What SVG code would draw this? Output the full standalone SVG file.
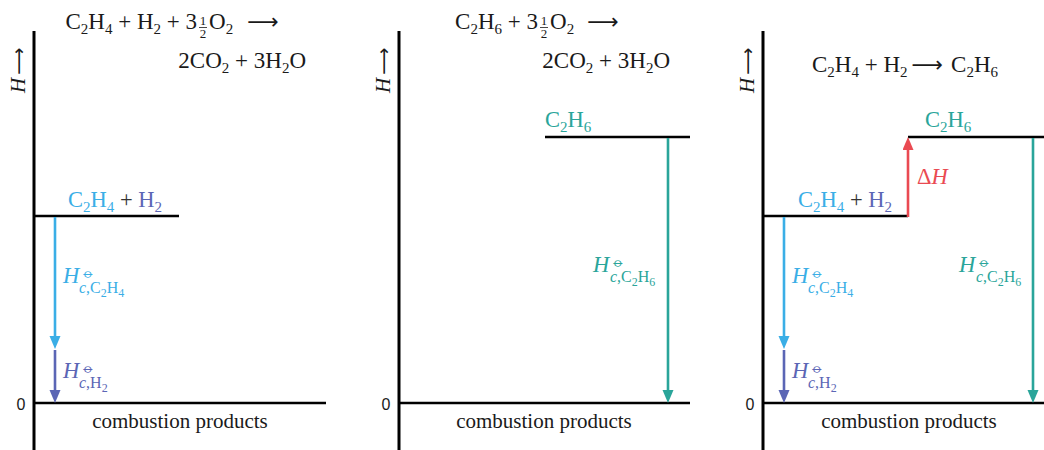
<svg xmlns="http://www.w3.org/2000/svg" width="1044" height="450" viewBox="0 0 1044 450">
<style>
.t{font-family:"Liberation Serif","DejaVu Serif",serif;font-size:23px;fill:#1a1a1a}
.s{font-size:15px}
.fr{font-family:"Liberation Serif",serif;font-size:13px;fill:#1a1a1a;text-anchor:middle}
.ar{font-family:"DejaVu Sans",sans-serif;font-size:22px}
.ar2{font-family:"DejaVu Sans",sans-serif;font-size:19px}
.i{font-style:italic}
.zero{font-family:"Liberation Sans","DejaVu Sans",sans-serif;font-size:16px;fill:#1a1a1a;text-anchor:middle}
.cp{font-family:"Liberation Serif",serif;font-size:21px;fill:#1a1a1a;text-anchor:middle}
.ax{stroke:#000;stroke-width:3;fill:none}
.lv{stroke:#000;stroke-width:2.5;fill:none}
.ps{fill:#333}
.blue{fill:#3aaee6}.purple{fill:#5b66b5}.teal{fill:#2aa59a}.red{fill:#ea4a52}
.ss{font-family:"DejaVu Sans",sans-serif;font-size:15px;font-style:normal}
.lb{font-family:"Liberation Serif",serif;font-size:22.5px}
.sub{font-size:16px;font-style:normal}
.ls2{font-size:12px}
</style>
<defs>
<marker id="hb" markerUnits="userSpaceOnUse" markerWidth="14" markerHeight="12" refX="6" refY="5.5" orient="auto"><path d="M0,0 L13,5.5 L0,11 z" fill="#3aaee6"/></marker>
<marker id="hp" markerUnits="userSpaceOnUse" markerWidth="14" markerHeight="12" refX="6" refY="5.5" orient="auto"><path d="M0,0 L13,5.5 L0,11 z" fill="#5b66b5"/></marker>
<marker id="ht" markerUnits="userSpaceOnUse" markerWidth="14" markerHeight="12" refX="6" refY="5.5" orient="auto"><path d="M0,0 L13,5.5 L0,11 z" fill="#2aa59a"/></marker>
<marker id="hr" markerUnits="userSpaceOnUse" markerWidth="14" markerHeight="12" refX="6" refY="5.5" orient="auto"><path d="M0,0 L13,5.5 L0,11 z" fill="#ea4a52"/></marker>
</defs>

<!-- Panel 1 -->
<g id="panel1">
  <g id="p1-axis">
    <line class="ax" x1="34" y1="31" x2="34" y2="450"/>
    <line class="lv" x1="34" y1="403" x2="326" y2="403"/>
    <text class="t" transform="translate(25,93) rotate(-90)"><tspan class="i" font-size="21">H</tspan><tspan class="ar2" dx="3">⟶</tspan></text>
    <text class="zero" x="21" y="410">0</text>
    <text class="cp" x="180" y="428">combustion products</text>
  </g>
  <g id="p1-title">
    <text class="t" x="197" y="29" text-anchor="end">C<tspan class="s" dy="5">2</tspan><tspan dy="-5">H</tspan><tspan class="s" dy="5">4</tspan><tspan dy="-5"> + H</tspan><tspan class="s" dy="5">2</tspan><tspan dy="-5"> + 3</tspan></text>
    <text class="fr" x="203" y="25">1</text>
    <line x1="199" y1="27.5" x2="207" y2="27.5" stroke="#1a1a1a" stroke-width="0.8"/>
    <text class="fr" x="203" y="38">2</text>
    <text class="t" x="209" y="29">O<tspan class="s" dy="5">2</tspan><tspan class="ar" dy="-5" dx="14">⟶</tspan></text>
    <text class="t" x="306" y="68" text-anchor="end">2CO<tspan class="s" dy="5">2</tspan><tspan dy="-5"> + 3H</tspan><tspan class="s" dy="5">2</tspan><tspan dy="-5">O</tspan></text>
  </g>
  <g id="p1-level">
    <line class="lv" x1="34" y1="216" x2="179" y2="216"/>
    <text class="lb" x="68" y="207"><tspan class="blue">C</tspan><tspan class="blue s" dy="5">2</tspan><tspan class="blue" dy="-5">H</tspan><tspan class="blue s" dy="5">4</tspan><tspan class="ps" dy="-5"> + </tspan><tspan class="purple">H</tspan><tspan class="purple s" dy="5">2</tspan></text>
  </g>
  <g id="p1-labels">
    <text class="lb i blue" x="63" y="283">H<tspan class="ss" x="82" y="278">⦵</tspan><tspan class="sub" x="79" y="293"><tspan class="i">c</tspan>,C<tspan class="ls2" dy="4">2</tspan><tspan dy="-4">H</tspan><tspan class="ls2" dy="4">4</tspan></tspan></text>
    <text class="lb i purple" x="63" y="378">H<tspan class="ss" x="82" y="373">⦵</tspan><tspan class="sub" x="79" y="388"><tspan class="i">c</tspan>,H<tspan class="ls2" dy="4">2</tspan></tspan></text>
  </g>
</g>

<!-- Panel 2 -->
<g id="panel2">
  <g id="p2-axis">
    <line class="ax" x1="399" y1="31" x2="399" y2="450"/>
    <line class="lv" x1="399" y1="403" x2="690" y2="403"/>
    <text class="t" transform="translate(390,93) rotate(-90)"><tspan class="i" font-size="21">H</tspan><tspan class="ar2" dx="3">⟶</tspan></text>
    <text class="zero" x="386" y="410">0</text>
    <text class="cp" x="544" y="428">combustion products</text>
  </g>
  <g id="p2-title">
    <text class="t" x="538" y="29" text-anchor="end">C<tspan class="s" dy="5">2</tspan><tspan dy="-5">H</tspan><tspan class="s" dy="5">6</tspan><tspan dy="-5"> + 3</tspan></text>
    <text class="fr" x="544" y="25">1</text>
    <line x1="540" y1="27.5" x2="548" y2="27.5" stroke="#1a1a1a" stroke-width="0.8"/>
    <text class="fr" x="544" y="38">2</text>
    <text class="t" x="550" y="29">O<tspan class="s" dy="5">2</tspan><tspan class="ar" dy="-5" dx="13">⟶</tspan></text>
    <text class="t" x="670" y="68" text-anchor="end">2CO<tspan class="s" dy="5">2</tspan><tspan dy="-5"> + 3H</tspan><tspan class="s" dy="5">2</tspan><tspan dy="-5">O</tspan></text>
  </g>
  <g id="p2-level">
    <line class="lv" x1="545" y1="137" x2="690" y2="137"/>
    <text class="lb teal" x="545" y="127">C<tspan class="s" dy="5">2</tspan><tspan dy="-5">H</tspan><tspan class="s" dy="5">6</tspan></text>
  </g>
  <g id="p2-labels">
    <text class="lb i teal" x="593" y="272">H<tspan class="ss" x="612" y="267">⦵</tspan><tspan class="sub" x="610" y="282"><tspan class="i">c</tspan>,C<tspan class="ls2" dy="4">2</tspan><tspan dy="-4">H</tspan><tspan class="ls2" dy="4">6</tspan></tspan></text>
  </g>
</g>

<!-- Panel 3 -->
<g id="panel3">
  <g id="p3-axis">
    <line class="ax" x1="763" y1="31" x2="763" y2="450"/>
    <line class="lv" x1="763" y1="403" x2="1044" y2="403"/>
    <text class="t" transform="translate(754,93) rotate(-90)"><tspan class="i" font-size="21">H</tspan><tspan class="ar2" dx="3">⟶</tspan></text>
    <text class="zero" x="750" y="410">0</text>
    <text class="cp" x="909" y="428">combustion products</text>
  </g>
  <g id="p3-title">
    <text class="t" x="812" y="72">C<tspan class="s" dy="5">2</tspan><tspan dy="-5">H</tspan><tspan class="s" dy="5">4</tspan><tspan dy="-5"> + H</tspan><tspan class="s" dy="5">2</tspan><tspan class="ar" dy="-5" dx="4">⟶</tspan><tspan dx="8">C</tspan><tspan class="s" dy="5">2</tspan><tspan dy="-5">H</tspan><tspan class="s" dy="5">6</tspan></text>
  </g>
  <g id="p3-level-low">
    <line class="lv" x1="763" y1="216" x2="908" y2="216"/>
    <text class="lb" x="798" y="207"><tspan class="blue">C</tspan><tspan class="blue s" dy="5">2</tspan><tspan class="blue" dy="-5">H</tspan><tspan class="blue s" dy="5">4</tspan><tspan class="ps" dy="-5"> + </tspan><tspan class="purple">H</tspan><tspan class="purple s" dy="5">2</tspan></text>
  </g>
  <g id="p3-level-high">
    <line class="lv" x1="908" y1="137" x2="1044" y2="137"/>
    <text class="lb teal" x="925" y="127">C<tspan class="s" dy="5">2</tspan><tspan dy="-5">H</tspan><tspan class="s" dy="5">6</tspan></text>
  </g>
  <g id="p3-labels">
    <text class="lb i blue" x="792" y="283">H<tspan class="ss" x="811" y="278">⦵</tspan><tspan class="sub" x="808" y="293"><tspan class="i">c</tspan>,C<tspan class="ls2" dy="4">2</tspan><tspan dy="-4">H</tspan><tspan class="ls2" dy="4">4</tspan></tspan></text>
    <text class="lb i purple" x="792" y="378">H<tspan class="ss" x="811" y="373">⦵</tspan><tspan class="sub" x="808" y="388"><tspan class="i">c</tspan>,H<tspan class="ls2" dy="4">2</tspan></tspan></text>
    <text class="lb i teal" x="959" y="272">H<tspan class="ss" x="978" y="267">⦵</tspan><tspan class="sub" x="976" y="282"><tspan class="i">c</tspan>,C<tspan class="ls2" dy="4">2</tspan><tspan dy="-4">H</tspan><tspan class="ls2" dy="4">6</tspan></tspan></text>
    <text class="lb red" x="917" y="184">Δ<tspan class="i">H</tspan></text>
  </g>
</g>

<g id="connectors" fill="none" stroke-width="2.6">
  <line x1="55" y1="217" x2="55" y2="342" stroke="#3aaee6" marker-end="url(#hb)"/>
  <line x1="55" y1="350" x2="55" y2="396" stroke="#5b66b5" marker-end="url(#hp)"/>
  <line x1="668" y1="138" x2="668" y2="396" stroke="#2aa59a" marker-end="url(#ht)"/>
  <line x1="784" y1="217" x2="784" y2="342" stroke="#3aaee6" marker-end="url(#hb)"/>
  <line x1="784" y1="350" x2="784" y2="396" stroke="#5b66b5" marker-end="url(#hp)"/>
  <line x1="908" y1="217" x2="908" y2="144" stroke="#ea4a52" marker-end="url(#hr)"/>
  <line x1="1033" y1="138" x2="1033" y2="396" stroke="#2aa59a" marker-end="url(#ht)"/>
</g>
</svg>
